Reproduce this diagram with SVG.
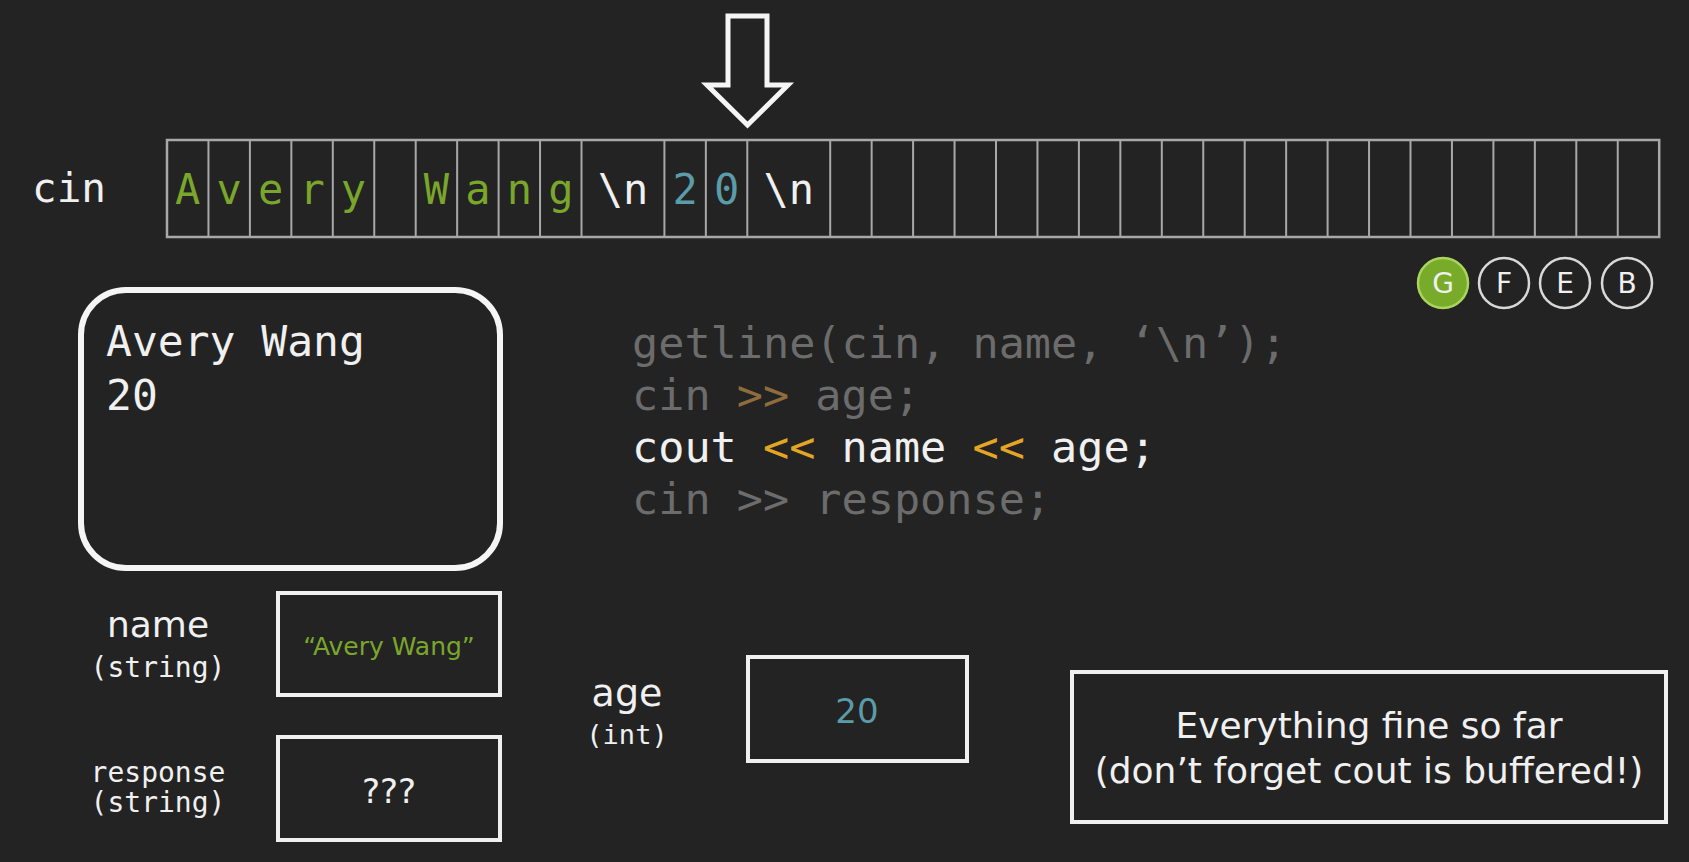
<svg xmlns="http://www.w3.org/2000/svg" width="1689" height="862" viewBox="0 0 1689 862">
<style>
.mono{font-family:"DejaVu Sans Mono","Liberation Mono",monospace}
.sans{font-family:"DejaVu Sans","Liberation Sans",sans-serif}
.buf{font-size:42px;text-anchor:middle}
.grn{fill:#7aa62c}
.teal{fill:#5a9ca8}
.wht{fill:#f0f0f0}
.box{fill:none;stroke:#f0f0f0;stroke-width:4}
.code{font-size:43.5px;fill:#6c6c6c}
.code.active{fill:#f0f0f0}
.op-dim{fill:#8e6c3c}
.op-hot{fill:#e2a624}
.lbl{fill:#f0f0f0;text-anchor:middle}
.circ{fill:none;stroke:#d8d8d8;stroke-width:2.5}
.cl{font-size:28px;fill:#f0f0f0;text-anchor:middle}
</style>
<rect x="0" y="0" width="1689" height="862" fill="#232323"/>

<g id="pointer-arrow">
<path d="M728,16 H767 V85 H788 L747.5,125 L707,85 H728 Z" fill="none" stroke="#f5f5f5" stroke-width="5" stroke-linejoin="miter"/>
</g>

<g id="cin-buffer">
<text class="mono wht" x="32" y="202" font-size="41">cin</text>
<rect x="167" y="140" width="1492.2" height="97" fill="none" stroke="#a8a8a8" stroke-width="2.5"/>
<path fill="none" stroke="#a8a8a8" stroke-width="2" d="M208.45,140V237 M249.9,140V237 M291.35,140V237 M332.8,140V237 M374.25,140V237 M415.7,140V237 M457.15,140V237 M498.6,140V237 M540.05,140V237 M581.5,140V237 M664.4,140V237 M705.85,140V237 M747.3,140V237 M830.2,140V237 M871.65,140V237 M913.1,140V237 M954.55,140V237 M996,140V237 M1037.45,140V237 M1078.9,140V237 M1120.35,140V237 M1161.8,140V237 M1203.25,140V237 M1244.7,140V237 M1286.15,140V237 M1327.6,140V237 M1369.05,140V237 M1410.5,140V237 M1451.95,140V237 M1493.4,140V237 M1534.85,140V237 M1576.3,140V237 M1617.75,140V237"/>
<text class="mono buf grn" x="187.7" y="204">A</text>
<text class="mono buf grn" x="229.2" y="204">v</text>
<text class="mono buf grn" x="270.6" y="204">e</text>
<text class="mono buf grn" x="312.1" y="204">r</text>
<text class="mono buf grn" x="353.5" y="204">y</text>
<text class="mono buf grn" x="436.4" y="204">W</text>
<text class="mono buf grn" x="477.9" y="204">a</text>
<text class="mono buf grn" x="519.3" y="204">n</text>
<text class="mono buf grn" x="560.8" y="204">g</text>
<text class="mono buf wht" x="623" y="204">\n</text>
<text class="mono buf teal" x="685.1" y="204">2</text>
<text class="mono buf teal" x="726.6" y="204">0</text>
<text class="mono buf wht" x="788.75" y="204">\n</text>
</g>

<g id="progress-badges">
<circle cx="1443" cy="283" r="25" fill="#78ab2a" stroke="#a9d45e" stroke-width="2.5"/>
<text class="sans cl" x="1443" y="293">G</text>
<circle class="circ" cx="1504" cy="283" r="25"/>
<text class="sans cl" x="1504" y="293">F</text>
<circle class="circ" cx="1565" cy="283" r="25"/>
<text class="sans cl" x="1565" y="293">E</text>
<circle class="circ" cx="1627" cy="283" r="25"/>
<text class="sans cl" x="1627" y="293">B</text>
</g>

<g id="console">
<rect x="81" y="290" width="419" height="278" rx="45" ry="45" fill="none" stroke="#f5f5f5" stroke-width="6"/>
<text class="mono wht" x="106" y="356" font-size="43">Avery Wang</text>
<text class="mono wht" x="106" y="410" font-size="43">20</text>
</g>

<g id="code">
<text class="mono code" x="632" y="358">getline(cin, name, ‘\n’);</text>
<text class="mono code" x="632" y="410">cin <tspan class="op-dim">&gt;&gt;</tspan> age;</text>
<text class="mono code active" x="632" y="462">cout <tspan class="op-hot">&lt;&lt;</tspan> name <tspan class="op-hot">&lt;&lt;</tspan> age;</text>
<text class="mono code" x="632" y="514">cin &gt;&gt; response;</text>
</g>

<g id="var-name">
<text class="sans lbl" x="158" y="637" font-size="36">name</text>
<text class="mono lbl" x="158" y="677" font-size="28">(string)</text>
<rect class="box" x="278" y="593" width="222" height="102"/>
<text class="sans grn" x="389" y="655" font-size="25" text-anchor="middle">“Avery Wang”</text>
</g>

<g id="var-response">
<text class="mono lbl" x="158" y="782" font-size="28">response</text>
<text class="mono lbl" x="158" y="812" font-size="28">(string)</text>
<rect class="box" x="278" y="737" width="222" height="103"/>
<text class="sans lbl" x="389" y="803" font-size="34">???</text>
</g>

<g id="var-age">
<text class="sans lbl" x="627" y="706" font-size="38">age</text>
<text class="mono lbl" x="627" y="744" font-size="27">(int)</text>
<rect class="box" x="748" y="657" width="219" height="104"/>
<text class="sans teal" x="857" y="723" font-size="34" text-anchor="middle">20</text>
</g>

<g id="note">
<rect class="box" x="1072" y="672" width="594" height="150"/>
<text class="sans lbl" x="1369" y="738" font-size="36">Everything fine so far</text>
<text class="sans lbl" x="1369" y="783" font-size="36">(don’t forget cout is buffered!)</text>
</g>

<g id="connectors"></g>
</svg>
